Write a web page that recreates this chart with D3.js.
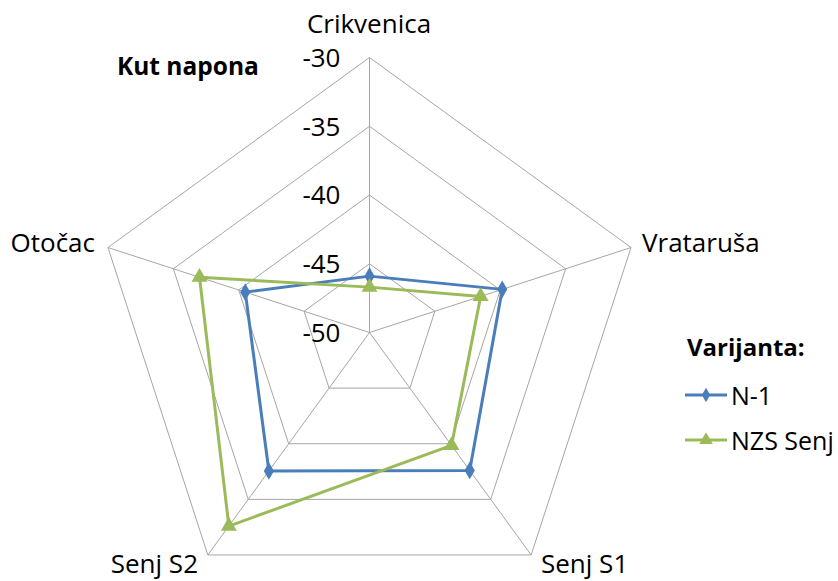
<!DOCTYPE html>
<html>
<head>
<meta charset="utf-8">
<script src="https://cdn.jsdelivr.net/npm/d3@7"></script>
<style>
  html, body { margin: 0; padding: 0; background: #fff; }
  svg { display: block; }
  text { font-family: "Open Sans", Lato, sans-serif; fill: #000; }
</style>
</head>
<body>
<svg id="chart" width="838" height="581"></svg>
<script>
// Voltage angle (kut napona) per substation, two scenarios
const categories = ["Crikvenica", "Vrataruša", "Senj S1", "Senj S2", "Otočac"];
const seriesNames = ["N-1", "NZS Senj"];
const valuesN1 = [-45.9, -39.85, -37.6, -37.55, -40.5];
const valuesNZS = [-46.7, -41.5, -39.85, -32.6, -37.0];
const tickValues = [-50, -45, -40, -35, -30];
const seriesColors = ["#4A7EBB", "#9BBB59"];

const svg = d3.select("#chart");
const cx = 369.5, cy = 332.5, R = 275;

const r = d3.scaleLinear().domain([-50, -30]).range([0, R]);
const angle = d3.scaleLinear().domain([0, categories.length]).range([0, 2 * Math.PI]);

function pt(i, v) {
  const a = angle(i);
  return [cx + r(v) * Math.sin(a), cy - r(v) * Math.cos(a)];
}

// Grid rings
const g = svg.append("g");
tickValues.slice(1).forEach(t => {
  const pts = categories.map((c, i) => pt(i, t));
  g.append("polygon")
    .attr("points", pts.map(p => p.join(",")).join(" "))
    .attr("fill", "none")
    .attr("stroke", "#A6A6A6")
    .attr("stroke-width", 1);
});
// Spokes
categories.forEach((c, i) => {
  const p = pt(i, -30);
  g.append("line")
    .attr("x1", cx).attr("y1", cy)
    .attr("x2", p[0]).attr("y2", p[1])
    .attr("stroke", "#A6A6A6").attr("stroke-width", 1);
});

// Tick labels along the top spoke
tickValues.forEach(t => {
  svg.append("text")
    .attr("x", cx - 29)
    .attr("y", cy - r(t))
    .attr("dy", "0.36em")
    .attr("text-anchor", "end")
    .attr("font-size", 26)
    .text(t);
});

// Category labels
const labelPos = [
  {x: 369, y: 33, anchor: "middle"},
  {x: 642, y: 252, anchor: "start"},
  {x: 541, y: 573, anchor: "start"},
  {x: 198, y: 573, anchor: "end"},
  {x: 95, y: 252, anchor: "end"}
];
categories.forEach((c, i) => {
  svg.append("text")
    .attr("x", labelPos[i].x).attr("y", labelPos[i].y)
    .attr("text-anchor", labelPos[i].anchor)
    .attr("font-size", 26)
    .text(c);
});

// Series
const line = d3.line().curve(d3.curveLinearClosed);
const diamond = d3.symbol().type(d3.symbolDiamond).size(90);
const triangle = d3.symbol().type(d3.symbolTriangle).size(110);
const allSeries = [valuesN1, valuesNZS];
const markers = [diamond, triangle];

allSeries.forEach((vals, s) => {
  const pts = vals.map((v, i) => pt(i, v));
  svg.append("path")
    .attr("d", line(pts))
    .attr("fill", "none")
    .attr("stroke", seriesColors[s])
    .attr("stroke-width", 3)
    .attr("stroke-linejoin", "round");
  svg.selectAll(null).data(pts).enter().append("path")
    .attr("transform", d => `translate(${d[0]},${d[1]})`)
    .attr("d", markers[s]())
    .attr("fill", seriesColors[s]);
});

// Title
svg.append("text")
  .attr("x", 117).attr("y", 75)
  .attr("font-size", 24.5).attr("font-weight", "bold")
  .text("Kut napona");

// Legend
const lg = svg.append("g");
lg.append("text")
  .attr("x", 687).attr("y", 356)
  .attr("font-size", 24).attr("font-weight", "bold")
  .text("Varijanta:");
seriesNames.forEach((name, s) => {
  const y = 395 + s * 45;
  lg.append("line")
    .attr("x1", 685).attr("x2", 727).attr("y1", y).attr("y2", y)
    .attr("stroke", seriesColors[s]).attr("stroke-width", 3);
  lg.append("path")
    .attr("transform", `translate(706,${y})`)
    .attr("d", (s === 0 ? d3.symbol().type(d3.symbolDiamond).size(60) : d3.symbol().type(d3.symbolTriangle).size(80))())
    .attr("fill", seriesColors[s]);
  lg.append("text")
    .attr("x", 731).attr("y", y + 10)
    .attr("font-size", 25)
    .text(name);
});
</script>
</body>
</html>
